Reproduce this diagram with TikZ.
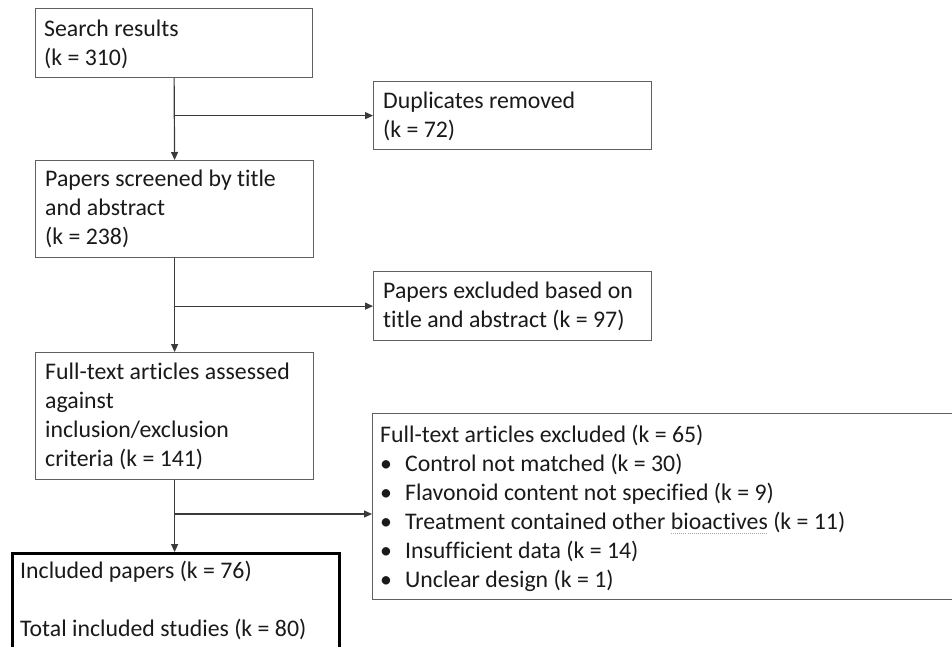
\documentclass[tikz,border=0pt]{standalone}
\usepackage{fontspec}
\setmainfont{Carlito}[Ligatures={NoCommon}]
\usetikzlibrary{arrows.meta}
\definecolor{boxgray}{HTML}{606060}
\definecolor{linegray}{HTML}{3A3A3A}
\definecolor{txtcol}{HTML}{1A1A1A}
\newcommand\mybul{\makebox[25pt][l]{\textbullet}}
\newsavebox\myspellbox
\newcommand\myspell[1]{\sbox\myspellbox{#1}\rlap{\color{gray!70}\xleaders\hbox to 2pt{\hss\rule[-4.5pt]{1pt}{0.9pt}\hss}\hskip\wd\myspellbox}\usebox\myspellbox}
\tikzset{
  box/.style={draw=boxgray, line width=1.2pt, rectangle, inner sep=0pt, anchor=north west, fill=white},
  finalbox/.style={draw=black, line width=2.6pt, rectangle, inner sep=0pt, anchor=north west, fill=white},
  txt/.style={anchor=north west, inner sep=0pt, align=left, text=txtcol,
    font=\fontsize{23.8pt}{29pt}\selectfont},
  arr/.style={draw=linegray, line width=1.2pt, -{Triangle[length=8pt,width=7pt]}},
  ln/.style={draw=linegray, line width=1.2pt}
}
\newcommand\fs{\rule{0pt}{22pt}}
\begin{document}
\begin{tikzpicture}[x=1pt,y=-1pt]
\useasboundingbox (0,0) rectangle (952,646);
\clip (0,0) rectangle (952,646);
\fill[white] (0,0) rectangle (952,646);
% boxes
\node[box, minimum width=277pt, minimum height=69pt] (search) at (35,8) {};
\node[box, minimum width=278pt, minimum height=68pt] (dup) at (373,81) {};
\node[box, minimum width=278pt, minimum height=97pt] (screen) at (35,160) {};
\node[box, minimum width=278pt, minimum height=69pt] (excl1) at (373,271) {};
\node[box, minimum width=278pt, minimum height=127pt] (full) at (35,352) {};
\node[box, minimum width=640pt, minimum height=186pt] (excl2) at (372,413) {};
\node[finalbox, minimum width=327pt, minimum height=150pt] (incl) at (11,552) {};
% texts
\node[txt] (t1) at (44,14) {\fs Search results\\(k = 310)};
\node[txt] (t2) at (383,86) {\fs Duplicates removed\\(k = 72)};
\node[txt] (t3) at (45,164) {\fs Papers screened by title\\and abstract\\(k = 238)};
\node[txt] (t4) at (383,276) {\fs Papers excluded based on\\title and abstract (k = 97)};
\node[txt] (t5) at (45,357) {\fs Full-text articles assessed\\against\\inclusion/exclusion\\criteria (k = 141)};
\node[txt] (t6) at (380,420) {\fs Full-text articles excluded (k = 65)\\
\mybul Control not matched (k = 30)\\
\mybul Flavonoid content not specified (k = 9)\\
\mybul Treatment contained other \myspell{bioactives} (k = 11)\\
\mybul Insufficient data (k = 14)\\
\mybul Unclear design (k = 1)};
\node[txt] (t7) at (20,556) {\fs Included papers (k = 76)\\[29pt]Total included studies (k = 80)};
% connectors
\coordinate (b1) at (search.south |- dup.west);
\coordinate (b2) at (screen.south |- excl1.west);
\coordinate (b3) at (174,514);
\draw[arr] (search.south) -- (screen.north);
\draw[arr] (b1) -- (dup.west);
\draw[arr] (screen.south) -- (full.north);
\draw[arr] (b2) -- (excl1.west);
\draw[arr] (full.south) -- (full.south |- incl.north);
\draw[arr] (full.south |- b3) -- (full.south |- b3 -| excl2.west);
\end{tikzpicture}
\end{document}
